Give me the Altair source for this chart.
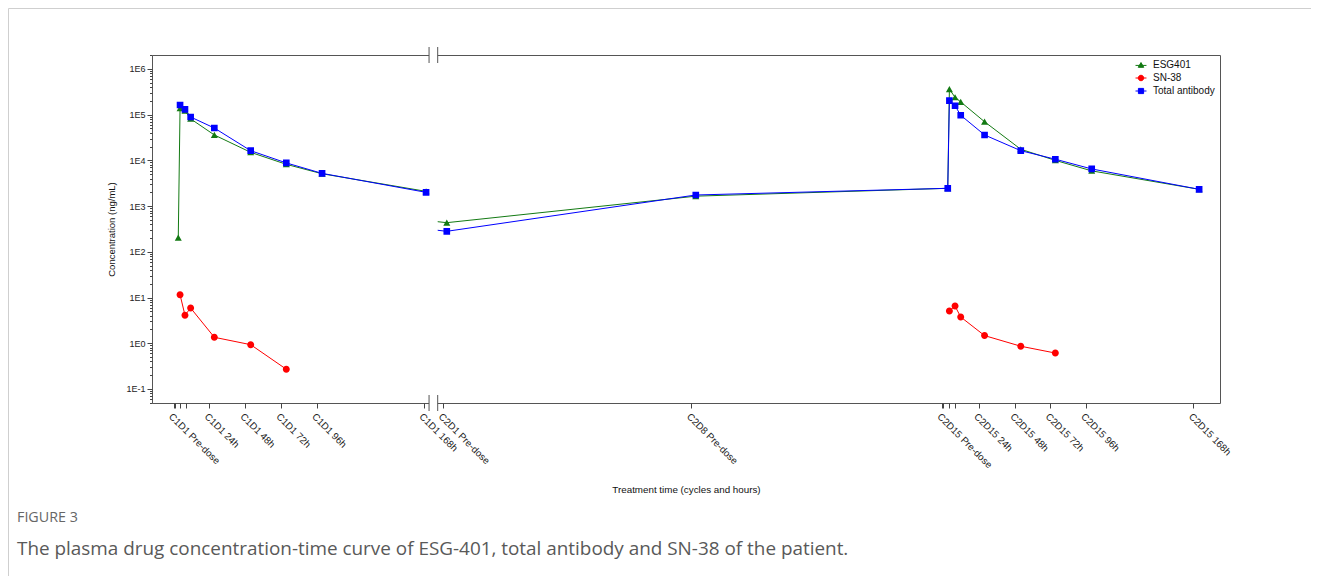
import altair as alt
import pandas as pd

# ---------------- data ----------------
series_names = ["ESG401", "SN-38", "Total antibody"]
series_colors = ["#137a13", "#ff0000", "#0000ff"]
series_paths = [
    "M-2,0.15H2M0,-0.9L1,0.85L-1,0.85Z",
    "M-2,0H2M1,0A1,1,0,1,1,-1,0A1,1,0,1,1,1,0Z",
    "M-2,0H2M-0.95,-0.95H0.95V0.95H-0.95Z",
]

# x in "axis hours": cycle 1 starts at 0, the cycle-2 segment (after the axis break) starts at 181
esg_x_c1 = [3.2, 4.4, 7.7, 11.5, 27.4, 51.8, 75.7, 99.7, 169.5]
esg_y_c1 = [204, 138000, 122000, 81000, 36000, 15000, 8200, 5100, 2100]
tab_x_c1 = [4.4, 7.7, 11.5, 27.4, 51.8, 75.7, 99.7, 169.5]
tab_y_c1 = [163000, 131000, 89000, 51000, 16300, 8800, 5200, 2000]
sn_x_c1 = [4.4, 7.7, 11.5, 27.4, 51.8, 75.7]
sn_y_c1 = [11.5, 4.1, 5.9, 1.35, 0.93, 0.27]

esg_x_c2 = [183.4, 350.5, 519.6, 520.7, 524.5, 528.3, 544.3, 568.6, 591.8, 616.2, 688.3]
esg_y_c2 = [434, 1650, 2450, 360000, 240000, 190000, 70000, 17500, 10000, 5900, 2330]
tab_x_c2 = [183.4, 350.5, 519.6, 520.7, 524.5, 528.3, 544.3, 568.6, 591.8, 616.2, 688.3]
tab_y_c2 = [281, 1750, 2450, 203000, 157000, 97000, 36000, 16300, 10600, 6500, 2330]
sn_x_c2 = [520.7, 524.5, 528.3, 544.3, 568.6, 591.8]
sn_y_c2 = [5.1, 6.5, 3.75, 1.47, 0.86, 0.61]

# line pieces that enter the second segment from the axis break (no marker)
esg_stub_x = [177.3]
esg_stub_y = [456]
tab_stub_x = [177.3]
tab_stub_y = [296]

# axis break
break_start = 171.5
break_end = 177.3

tick_values = [0, 1.3, 4.4, 8.1, 24, 48, 72, 96, 168, 181, 347.5,
               515.6, 516.6, 520.7, 524.5, 540.4, 564.6, 588.3, 612.2, 684.4]
tick_labels = ["C1D1 Pre-dose", "", "", "", "C1D1 24h", "C1D1 48h", "C1D1 72h", "C1D1 96h",
               "C1D1 168h", "C2D1 Pre-dose", "C2D8 Pre-dose",
               "C2D15 Pre-dose", "", "", "", "C2D15 24h", "C2D15 48h", "C2D15 72h",
               "C2D15 96h", "C2D15 168h"]

y_major = [0.1, 1, 10, 100, 1000, 10000, 100000, 1000000]
y_minor = [m * d for d in [0.01, 0.1, 1, 10, 100, 1000, 10000, 100000, 1000000]
           for m in range(2, 10)]

caption_label = "FIGURE 3"
caption_text = ("The plasma drug concentration-time curve of ESG-401, total antibody "
                "and SN-38 of the patient.")

# ---------------- tables ----------------
def make_rows(name, seg, xs, ys):
    return [{"series": name, "seg": seg, "x": a, "y": b} for a, b in zip(xs, ys)]

point_rows = (make_rows("ESG401", "c1", esg_x_c1, esg_y_c1)
              + make_rows("ESG401", "c2", esg_x_c2, esg_y_c2)
              + make_rows("SN-38", "c1", sn_x_c1, sn_y_c1)
              + make_rows("SN-38", "c2", sn_x_c2, sn_y_c2)
              + make_rows("Total antibody", "c1", tab_x_c1, tab_y_c1)
              + make_rows("Total antibody", "c2", tab_x_c2, tab_y_c2))
line_rows = (point_rows
             + make_rows("ESG401", "c2", esg_stub_x, esg_stub_y)
             + make_rows("Total antibody", "c2", tab_stub_x, tab_stub_y))
point_df = pd.DataFrame(point_rows)
line_df = pd.DataFrame(line_rows)
line_df["key"] = line_df["series"] + "_" + line_df["seg"]

W, H = 1068, 348
x_domain = [-14.43, 702.3]
y_domain = [0.0493, 2.02e6]

label_expr = " : ".join(
    f"datum.value == {v} ? '{l}'" for v, l in zip(tick_values, tick_labels)
) + " : ''"

xscale = alt.Scale(domain=x_domain, nice=False, zero=False)
yscale = alt.Scale(type="log", domain=y_domain, nice=False)
color_scale = alt.Scale(domain=series_names, range=series_colors)
shape_scale = alt.Scale(domain=series_names, range=series_paths)

xaxis = alt.Axis(
    values=tick_values, labelExpr=label_expr, labelAngle=45, labelAlign="left",
    labelBaseline="top", labelOverlap=False, labelBound=False, labelFlush=False,
    labelFont="Liberation Sans", labelFontSize=9.8, labelColor="#222",
    labelPadding=3, tickSize=5, tickColor="#444", domain=False, grid=False,
    title="Treatment time (cycles and hours)", titleFont="Liberation Sans",
    titleFontSize=9.8, titleFontWeight="normal", titleColor="#111",
    titleY=86, titleBaseline="middle",
)
yaxis_major = alt.Axis(
    values=y_major, labelExpr="'1E' + round(log(datum.value) / LN10)",
    labelFont="Liberation Sans", labelFontSize=9, labelColor="#222",
    labelPadding=2, tickSize=5, tickColor="#444", domain=False, grid=False,
    title="Concentration (ng/mL)", titleFont="Liberation Sans", titleFontSize=9.5,
    titleFontWeight="normal", titleColor="#111", titleX=-41, titleBaseline="middle",
    orient="left",
)
yaxis_minor = alt.Axis(
    values=y_minor, labels=False, tickSize=2.5, tickColor="#444", domain=False,
    grid=False, title=None, orient="left",
)
legend = alt.Legend(
    title=None, orient="top-right", offset=5,
    labelFont="Liberation Sans", labelFontSize=10, labelColor="#111",
    symbolSize=30, symbolStrokeWidth=1, rowPadding=3, labelOffset=7,
)

lines = alt.Chart(line_df).mark_line(strokeWidth=1).encode(
    x=alt.X("x:Q", scale=xscale, axis=xaxis),
    y=alt.Y("y:Q", scale=yscale, axis=yaxis_major),
    color=alt.Color("series:N", scale=color_scale, legend=legend),
    detail="key:N",
)

points = alt.Chart(point_df).mark_point(filled=True, size=49, opacity=1).encode(
    x=alt.X("x:Q", scale=xscale, axis=None),
    y=alt.Y("y:Q", scale=yscale, axis=yaxis_minor),
    color=alt.Color("series:N", scale=color_scale, legend=legend),
    shape=alt.Shape("series:N", scale=shape_scale, legend=legend),
)

gap_df = pd.DataFrame({"b0": [break_start], "b1": [break_end]})
bar_df = pd.DataFrame({"bx": [break_start, break_end]})

gap_top = alt.Chart(gap_df).mark_rect(color="white").encode(
    x=alt.X("b0:Q", scale=xscale, axis=None), x2="b1:Q",
    y=alt.value(-2), y2=alt.value(2))
gap_bottom = alt.Chart(gap_df).mark_rect(color="white").encode(
    x=alt.X("b0:Q", scale=xscale, axis=None), x2="b1:Q",
    y=alt.value(H - 2), y2=alt.value(H + 2))
bars_top = alt.Chart(bar_df).mark_rule(color="#555", strokeWidth=1).encode(
    x=alt.X("bx:Q", scale=xscale, axis=None), y=alt.value(-8), y2=alt.value(8))
bars_bottom = alt.Chart(bar_df).mark_rule(color="#555", strokeWidth=1).encode(
    x=alt.X("bx:Q", scale=xscale, axis=None), y=alt.value(H - 8), y2=alt.value(H + 8))

frame_df = pd.DataFrame({"k": [0]})
frame_top = alt.Chart(frame_df).mark_rule(color="#cfcfcf", strokeWidth=1).encode(
    x=alt.value(-143.5), x2=alt.value(W + 120), y=alt.value(-46.5))
frame_left = alt.Chart(frame_df).mark_rule(color="#cfcfcf", strokeWidth=1).encode(
    x=alt.value(-143.5), y=alt.value(-46.5), y2=alt.value(H + 200))

cap_df = pd.DataFrame({"label": [caption_label], "text": [caption_text]})
cap_label = alt.Chart(cap_df).mark_text(
    align="left", baseline="middle", font="Open Sans", fontSize=14.3, color="#666666"
).encode(text="label:N", x=alt.value(-135), y=alt.value(463))
cap_text = alt.Chart(cap_df).mark_text(
    align="left", baseline="middle", font="Open Sans", fontSize=18.9, color="#595959"
).encode(text="text:N", x=alt.value(-135), y=alt.value(494))

chart = alt.layer(
    frame_top, frame_left, lines, points, gap_top, gap_bottom, bars_top, bars_bottom,
    cap_label, cap_text
).resolve_axis(y="independent", x="independent").properties(
    width=W, height=H,
    padding={"left": 144, "top": 47, "right": 91, "bottom": 173},
    autosize=alt.AutoSizeParams(type="none"),
    background="white",
).configure_view(stroke="#555", strokeWidth=1)

chart.save("out.html", embed_options={"renderer": "svg", "actions": False})
